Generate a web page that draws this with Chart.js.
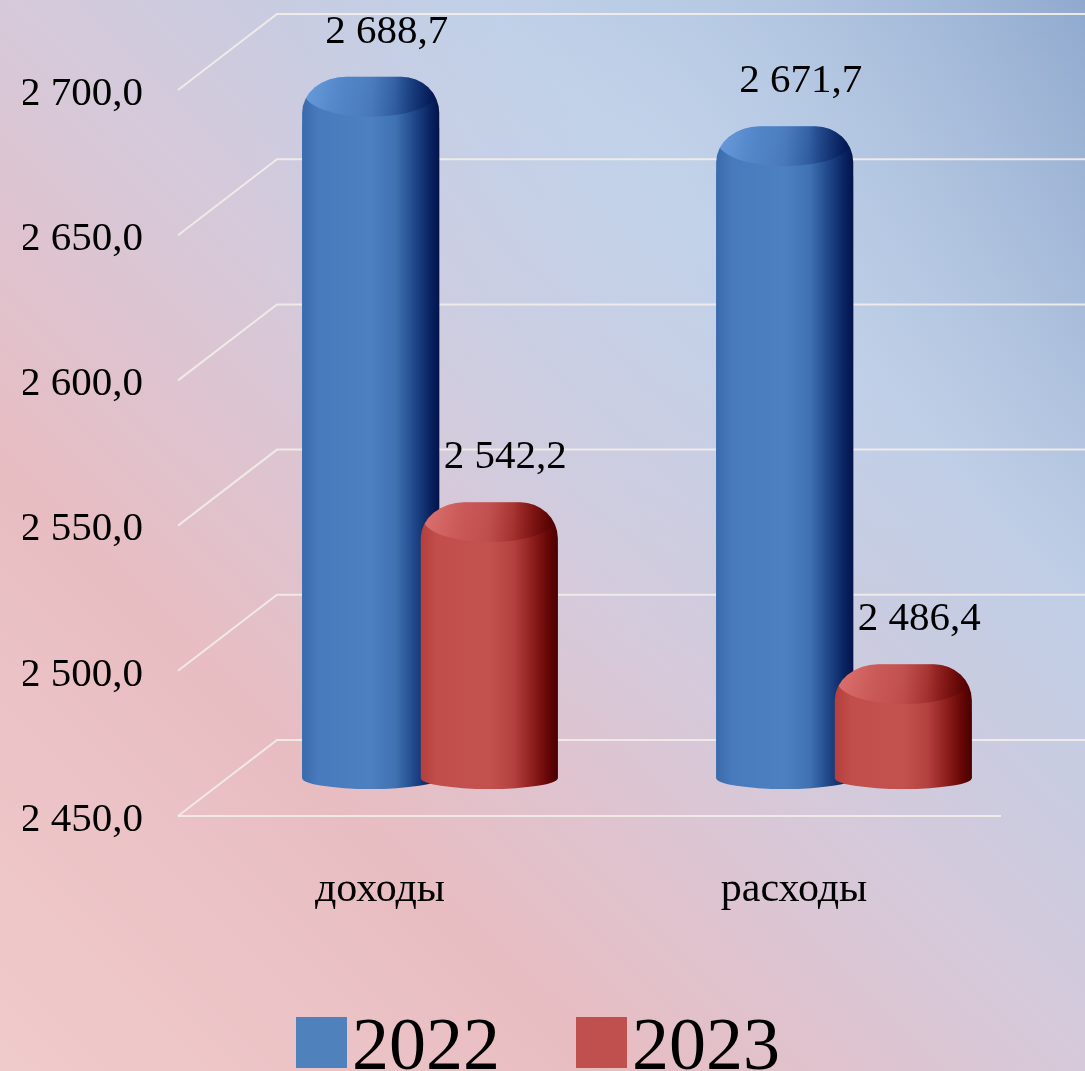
<!DOCTYPE html>
<html>
<head>
<meta charset="utf-8">
<script src="https://cdn.jsdelivr.net/npm/chart.js@4/dist/chart.umd.min.js"></script>
<style>
html,body{margin:0;padding:0;width:1085px;height:1071px;overflow:hidden;}
body{
  background:
    radial-gradient(ellipse at 62% 12%, rgba(196,214,236,0.55) 0%, rgba(196,214,236,0) 45%),
    linear-gradient(to top right, #f0cbcb 0%, #e8bdc2 28%, #d6c9da 50%, #bfcee6 72%, #8fa9ce 100%);
}
#wrap{position:relative;width:1085px;height:1071px;}
</style>
</head>
<body>
<div id="wrap"><canvas id="c" width="1085" height="1071"></canvas></div>
<script>
// ---- data ----
const categories = ['доходы', 'расходы'];
const seriesNames = ['2022', '2023'];
const values2022 = [2688.7, 2671.7];
const values2023 = [2542.2, 2486.4];
const yMin = 2450;
const yMax = 2700;
const yStep = 50;
const seriesColors = ['#4f81bd', '#c0504d'];

function fmt(n, d) {
  const s = n.toFixed(d).split('.');
  const int = s[0].replace(/\B(?=(\d{3})+(?!\d))/g, ' ');
  return int + ',' + s[1];
}

const SERIF = '"Liberation Serif", "Times New Roman", serif';

const gradStops = [
  [[0, '#3a6aab'], [0.12, '#487bbd'], [0.5, '#4d80c0'], [0.68, '#4072b2'], [0.82, '#1f4788'], [0.93, '#0a2463'], [1, '#03144a']],
  [[0, '#b4403d'], [0.12, '#c24e4b'], [0.5, '#c3524f'], [0.68, '#b3403d'], [0.82, '#8c1d1b'], [0.93, '#650606'], [1, '#480000']]
];

const gridPlugin = {
  id: 'perspGrid',
  beforeDatasetsDraw(chart) {
    const ctx = chart.ctx;
    const ys = chart.scales.y;
    const area = chart.chartArea;
    const fx = area.left - 45, bx = area.left + 54, d = 38;
    ctx.save();
    ctx.strokeStyle = 'rgba(240,236,232,0.95)';
    ctx.lineWidth = 2;
    ys.ticks.forEach((t) => {
      const my = ys.getPixelForValue(t.value);
      const fy = my + d, by = my - d;
      ctx.beginPath();
      ctx.moveTo(fx, fy);
      ctx.lineTo(bx, by);
      ctx.lineTo(chart.width, by);
      ctx.stroke();
      if (t.value === yMin) {
        ctx.beginPath();
        ctx.moveTo(fx, fy);
        ctx.lineTo(area.right - 50, fy);
        ctx.stroke();
      }
    });
    ctx.restore();
  }
};

const cylPlugin = {
  id: 'cylinders',
  afterDatasetsDraw(chart) {
    const ctx = chart.ctx;
    const area = chart.chartArea;
    chart.data.datasets.forEach((ds, di) => {
      const meta = chart.getDatasetMeta(di);
      meta.data.forEach((el) => {
        const x = el.x, w = el.width, top = el.y, base = Math.min(el.base, area.bottom);
        const left = x - w / 2, right = x + w / 2;
        const capTop = top - 8;
        const rxl = 44, rxr = 38, ry = 36, by = 11;
        const g = ctx.createLinearGradient(left, 0, right, 0);
        gradStops[di].forEach(s => g.addColorStop(s[0], s[1]));
        ctx.save();
        ctx.beginPath();
        ctx.moveTo(left, base);
        ctx.lineTo(left, capTop + ry);
        ctx.ellipse(left + rxl, capTop + ry, rxl, ry, 0, Math.PI, 1.5 * Math.PI);
        ctx.lineTo(right - rxr, capTop);
        ctx.ellipse(right - rxr, capTop + ry, rxr, ry, 0, 1.5 * Math.PI, 2 * Math.PI);
        ctx.lineTo(right, base);
        ctx.ellipse(x, base, w / 2, by, 0, 0, Math.PI);
        ctx.closePath();
        ctx.fillStyle = g;
        ctx.fill();
        ctx.clip();
        // cap top face shading
        const cg = ctx.createLinearGradient(left, capTop, right, capTop + 30);
        if (di === 0) {
          cg.addColorStop(0, 'rgba(130,185,245,0.7)');
          cg.addColorStop(0.4, 'rgba(90,140,210,0.2)');
          cg.addColorStop(0.7, 'rgba(10,40,110,0.3)');
          cg.addColorStop(1, 'rgba(0,15,70,0.5)');
        } else {
          cg.addColorStop(0, 'rgba(245,150,150,0.65)');
          cg.addColorStop(0.4, 'rgba(210,100,100,0.2)');
          cg.addColorStop(0.7, 'rgba(120,10,10,0.3)');
          cg.addColorStop(1, 'rgba(70,0,0,0.5)');
        }
        ctx.beginPath();
        ctx.ellipse(x, capTop + 16, w / 2 - 2, 24, 0, 0, 2 * Math.PI);
        ctx.fillStyle = cg;
        ctx.fill();
        ctx.restore();
      });
    });
    // value labels
    ctx.save();
    ctx.font = '41px ' + SERIF;
    ctx.fillStyle = '#000';
    ctx.textAlign = 'center';
    ctx.textBaseline = 'middle';
    chart.data.datasets.forEach((ds, di) => {
      const meta = chart.getDatasetMeta(di);
      meta.data.forEach((el, i) => {
        ctx.fillText(fmt(ds.data[i], 1), el.x + 16, el.y - 53);
      });
    });
    ctx.restore();
  }
};

const legendPlugin = {
  id: 'bigLegend',
  afterDraw(chart) {
    const ctx = chart.ctx;
    const area = chart.chartArea;
    const startX = area.left + 73, spacing = 280;
    const boxW = 51, boxH = 51, boxY = chart.height - 54;
    ctx.save();
    ctx.font = '74px ' + SERIF;
    ctx.textBaseline = 'alphabetic';
    ctx.textAlign = 'left';
    seriesNames.forEach((name, i) => {
      const bx = startX + i * spacing;
      ctx.fillStyle = seriesColors[i];
      ctx.fillRect(bx, boxY, boxW, boxH);
      ctx.fillStyle = '#000';
      ctx.fillText(name, bx + boxW + 5, boxY + boxH + 1);
    });
    ctx.restore();
  }
};

new Chart(document.getElementById('c'), {
  type: 'bar',
  data: {
    labels: categories,
    datasets: [
      { label: seriesNames[0], data: values2022, backgroundColor: seriesColors[0], borderRadius: { topLeft: 44, topRight: 44 }, borderSkipped: 'bottom' },
      { label: seriesNames[1], data: values2023, backgroundColor: seriesColors[1], borderRadius: { topLeft: 44, topRight: 44 }, borderSkipped: 'bottom' }
    ]
  },
  options: {
    responsive: false,
    animation: false,
    devicePixelRatio: 1,
    categoryPercentage: 0.573,
    barPercentage: 1.156,
    layout: { padding: { top: 52, left: 23, right: 34, bottom: 159 } },
    plugins: {
      legend: { display: false },
      tooltip: { enabled: false }
    },
    scales: {
      x: {
        grid: { display: false, drawTicks: false },
        border: { display: false },
        ticks: {
          color: '#000',
          font: { family: SERIF, size: 42 },
          labelOffset: -50,
          padding: 87
        },
        afterFit(scale) {
          scale.height = 134;
          scale.paddingLeft = 0;
          scale.paddingRight = 0;
        }
      },
      y: {
        min: yMin,
        max: yMax,
        grid: { display: false, drawTicks: false },
        border: { display: false },
        ticks: {
          stepSize: yStep,
          color: '#000',
          font: { family: SERIF, size: 41 },
          labelOffset: 42,
          padding: 80,
          callback: (v) => fmt(v, 1)
        },
        afterFit(scale) {
          scale.width = 200;
          scale.paddingTop = 0;
          scale.paddingBottom = 0;
        }
      }
    }
  },
  plugins: [gridPlugin, cylPlugin, legendPlugin]
});
</script>
</body>
</html>
